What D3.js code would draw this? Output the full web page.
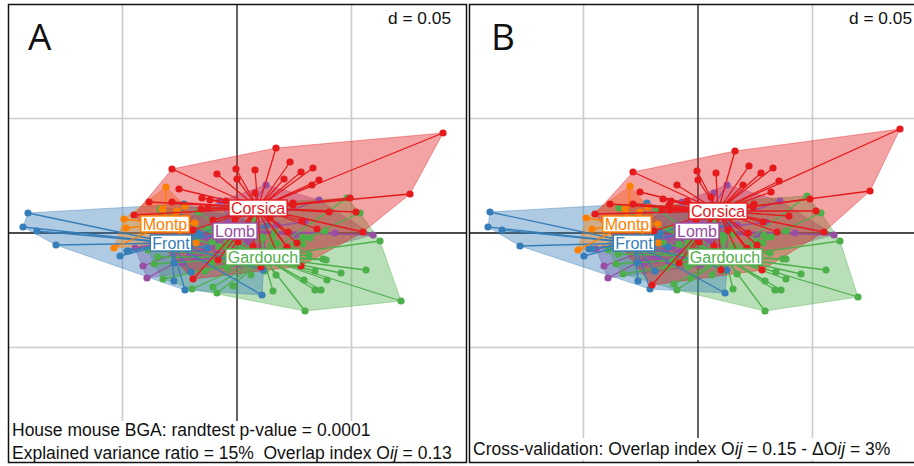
<!DOCTYPE html>
<html>
<head>
<meta charset="utf-8">
<style>
html,body{margin:0;padding:0;background:#fff;overflow:hidden}
svg{display:block}
text{font-family:"Liberation Sans",Arial,sans-serif}
</style>
<script src="https://cdn.jsdelivr.net/npm/d3@7"></script>
</head>
<body>
<svg id="chart" width="914" height="466"></svg>
<script>
// Scores, in units where the grid step d = 0.05 is 114.5
const gridValues = [-114.5, 114.5];
const groupNames = ["Lomb", "Gardouch", "Front", "Montp", "Corsica"];
const groupColors = ["#984ea3", "#4daf4a", "#377eb8", "#ff7f00", "#e41a1c"];

const centersA = [[-2,2],[26,-24],[-66,-10],[-72,9],[21,25]];
const centersB = [[-1,2],[27,-24],[-64,-10],[-71,9],[20,22]];

const frontA = [[-209,20],[-214,6],[-200,2],[-181,-12],[-117,-23],[-110,-18],[-108,-18],[-63,-30],[-46,-39],[-63,-48],[-52,-57],[-53,29],[25,-62],[29,7],[-37,-2],[26,-37],[-39,0],[-42,-10],[-30,-15],[-20,5],[-50,-15]];
const montpA = [[-71,46],[-113,14],[-111,5],[-123,-15],[-75,24],[-60,22],[-52,27],[-42,10],[-41,-10]];
const lombA = [[-102,-15],[-94,-33],[-90,-45],[-40,-25],[-30,-27],[-26,-14],[-30,-4],[-17,32],[29,48],[82,33],[136,-2],[98,0],[59,-2],[40,8],[68,11],[3,-32],[33,-29],[-47,-22],[-60,-12],[-20,-20],[10,-10],[-42,-26],[-55,-30],[20,20],[-10,10],[25,-15]];
const gardouchA = [[-77,24],[-39,21],[-89,-17],[-79,-24],[-83,-31],[-74,-46],[-45,-56],[-20,-60],[-24,-54],[-4,-53],[-32,-38],[-29,4],[-40,-7],[-25,-9],[-18,-14],[68,-78],[164,-68],[143,-8],[123,20],[110,35],[88,2],[73,-5],[66,-4],[66,-11],[72,-22],[86,-26],[89,-27],[129,-37],[104,-40],[90,-47],[78,-38],[67,-47],[78,-57],[84,-57],[36,-58],[39,-42],[28,-38],[14,-42],[38,1],[25,-4],[35,-4],[40,-10],[16,13],[-10,-10],[-17,-4],[26,-5],[36,-14],[60,-9],[-25,-30],[0,-25],[50,-20],[-10,-35],[15,-30]];
const corsicaA = [[-65,64],[-20,59],[-58,44],[-88,31],[-65,31],[-103,18],[-1,64],[0,54],[-27,33],[-29,25],[-36,24],[-44,3],[-19,-27],[-44,-46],[-24,13],[-11,32],[-2,13],[206,100],[173,39],[113,35],[39,85],[53,71],[64,61],[76,65],[82,53],[47,54],[75,48],[18,63],[18,40],[56,28],[92,21],[119,21],[65,12],[80,4],[126,1],[60,-10],[64,-33],[24,-34],[33,15],[16,-13],[1,-9],[51,1],[50,-14],[56,30],[-35,35],[-8,-20],[40,-20]];

const frontB = [[-208,21],[-210,6],[-196,3],[-178,-13],[-114,-23],[-109,-16],[-106,-16],[-61,-30],[-43,-38],[-60,-48],[-48,-56],[-51,30],[27,-60],[30,8],[-38,0],[29,-37],[-40,-2],[-42,-11],[-30,-14],[-20,6],[-50,-16]];
const montpB = [[-68,47],[-112,15],[-106,4],[-120,-17],[-73,24],[-58,21],[-50,26],[-40,9],[-40,-10]];
const lombB = [[-102,-16],[-94,-33],[-90,-45],[-40,-24],[-30,-28],[-25,-14],[-30,-4],[-16,31],[29,48],[82,32],[136,-2],[97,0],[59,-3],[39,8],[68,11],[16,40],[3,-32],[33,-29],[-47,-22],[-60,-12],[-20,-20],[10,-10],[-42,-27],[-54,-30],[20,20],[-10,10],[25,-15]];
const gardouchB = [[-79,25],[-41,24],[-90,-17],[-80,-21],[-82,-31],[-75,-41],[-24,-51],[-21,-57],[-7,-45],[-29,4],[-35,-10],[-19,-11],[-32,-35],[67,-78],[160,-64],[142,-8],[123,20],[109,37],[88,2],[73,-4],[66,-2],[65,-10],[72,-20],[85,-26],[88,-26],[128,-37],[103,-41],[88,-46],[78,-39],[67,-48],[77,-57],[83,-57],[35,-56],[39,-41],[26,-38],[14,-42],[35,-1],[24,-2],[25,-7],[16,13],[-10,-9],[-15,-3],[26,-4],[36,-13],[58,-8],[-25,-28],[0,-24],[50,-20],[-10,-34],[14,-30]];
const corsicaB = [[-65,61],[-21,48],[-58,41],[-88,29],[-65,29],[-103,19],[-1,62],[0,53],[-27,32],[-29,28],[-36,24],[-44,2],[-19,-30],[-46,-52],[-28,23],[-11,32],[-2,13],[202,104],[172,42],[112,34],[37,82],[51,67],[63,60],[75,65],[81,52],[45,48],[73,41],[18,60],[13,36],[55,26],[91,17],[118,22],[65,11],[79,1],[126,1],[59,-12],[64,-37],[23,-37],[30,3],[16,-13],[1,-9],[50,0],[49,-15],[56,29],[-35,34],[-8,-20],[40,-20]];

const seriesA = [lombA, gardouchA, frontA, montpA, corsicaA];
const seriesB = [lombB, gardouchB, frontB, montpB, corsicaB];

const svg = d3.select("#chart");

function drawPanel(opts){
  const x = d3.scaleLinear().domain([-229,229]).range([opts.left, opts.left + 458]);
  const y = d3.scaleLinear().domain([-229,229]).range([462, 4]);
  const g = svg.append("g");
  const clipId = "clip" + opts.letter;
  svg.append("clipPath").attr("id", clipId).append("rect")
    .attr("x", opts.left).attr("y", 4).attr("width", 458).attr("height", 458);
  g.attr("clip-path", "url(#" + clipId + ")");

  g.selectAll(".gv").data(gridValues).join("line")
    .attr("x1", d => x(d)).attr("x2", d => x(d)).attr("y1", 4).attr("y2", 462)
    .attr("stroke", "#cccccc").attr("stroke-width", 1.6);
  g.selectAll(".gh").data(gridValues).join("line")
    .attr("y1", d => y(d)).attr("y2", d => y(d)).attr("x1", opts.left).attr("x2", opts.left + 458)
    .attr("stroke", "#cccccc").attr("stroke-width", 1.6);
  g.append("line").attr("x1", x(0)).attr("x2", x(0)).attr("y1", 4).attr("y2", 462)
    .attr("stroke", "#111").attr("stroke-width", 1.3);
  g.append("line").attr("y1", y(0)).attr("y2", y(0)).attr("x1", opts.left).attr("x2", opts.left + 458)
    .attr("stroke", "#111").attr("stroke-width", 1.3);

  // hulls under everything
  opts.series.forEach((pts, i) => {
    const hull = d3.polygonHull(pts);
    g.append("path")
      .attr("d", d3.line().x(d => x(d[0])).y(d => y(d[1])).curve(d3.curveLinearClosed)(hull))
      .attr("fill", groupColors[i]).attr("fill-opacity", 0.4)
      .attr("stroke", groupColors[i]).attr("stroke-opacity", 0.4).attr("stroke-width", 1);
  });
  // stars and points
  opts.series.forEach((pts, i) => {
    const c = opts.centers[i];
    g.append("g").selectAll("line").data(pts).join("line")
      .attr("x1", x(c[0])).attr("y1", y(c[1]))
      .attr("x2", d => x(d[0])).attr("y2", d => y(d[1]))
      .attr("stroke", groupColors[i]).attr("stroke-width", 1.3);
    g.append("g").selectAll("circle").data(pts).join("circle")
      .attr("cx", d => x(d[0])).attr("cy", d => y(d[1])).attr("r", 3.6)
      .attr("fill", groupColors[i]);
  });
  // group labels
  groupNames.forEach((name, i) => {
    const c = opts.centers[i];
    const lg = g.append("g");
    const t = lg.append("text").attr("x", x(c[0])).attr("y", y(c[1]) + 5.6)
      .attr("text-anchor", "middle").attr("font-size", 16)
      .attr("fill", groupColors[i]).text(name);
    const w = t.node().getComputedTextLength() + 4;
    lg.insert("rect", "text").attr("x", x(c[0]) - w / 2).attr("y", y(c[1]) - 8)
      .attr("width", w).attr("height", 16)
      .attr("fill", "#fff").attr("stroke", groupColors[i]).attr("stroke-width", 1.4);
  });

  // white strip behind the note
  g.append("rect").attr("x", opts.left + 1).attr("y", opts.noteTop)
    .attr("width", 456).attr("height", opts.noteHeight).attr("fill", "#fff");
  opts.notes.forEach(n => {
    const t = g.append("text").attr("x", n.x).attr("y", n.y).attr("font-size", 17.5).attr("fill", "#111");
    n.parts.forEach(p => t.append("tspan").attr("font-style", p[1] ? "italic" : null).attr("xml:space","preserve").text(p[0]));
  });

  g.append("text").attr("x", x(0) + 214).attr("y", 24).attr("text-anchor", "end")
    .attr("font-size", 17.3).attr("fill", "#111").text("d = 0.05");
  g.append("text").attr("x", opts.letterX).attr("y", 50)
    .style("font-family", '"Open Sans",sans-serif').attr("font-size", 37).attr("fill", "#111").text(opts.letter);

  svg.append("rect").attr("x", opts.left + 0.5).attr("y", 4.5).attr("width", 458).attr("height", 458)
    .attr("fill", "none").attr("stroke", "#111").attr("stroke-width", 1.5);
}

drawPanel({letter:"A", left:8, letterX:28, series:seriesA, centers:centersA, noteTop:421, noteHeight:40,
  notes:[
    {x:12, y:436, parts:[["House mouse BGA: randtest p-value = 0.0001",0]]},
    {x:12, y:459, parts:[["Explained variance ratio = 15%\u00a0\u00a0Overlap index O",0],["ij",1],[" = 0.13",0]]}
  ]});
drawPanel({letter:"B", left:469, letterX:491, series:seriesB, centers:centersB, noteTop:438, noteHeight:22,
  notes:[
    {x:473, y:455, parts:[["Cross-validation: Overlap index O",0],["ij",1],[" = 0.15 - \u0394O",0],["ij",1],[" = 3%",0]]}
  ]});
</script>
</body>
</html>
